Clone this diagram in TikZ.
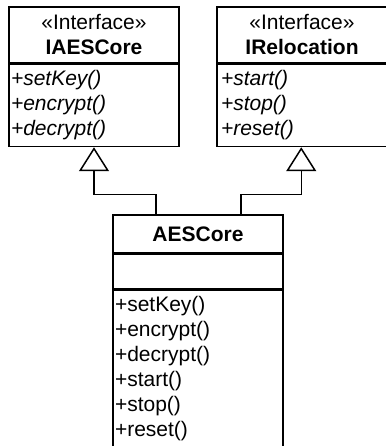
\documentclass[tikz,border=0pt]{standalone}
\usepackage{fontspec}
\setmainfont{Liberation Sans}
\usetikzlibrary{positioning,arrows.meta}

\begin{document}
\begin{tikzpicture}[x=1pt, y=1pt, line width=1.5pt, node font=\fontsize{21}{25}\selectfont]
        \tikzset{head/.style={draw, minimum width=170pt, inner sep=0pt, align=center}}
        \tikzset{ops/.style={draw, minimum width=170pt, text width=166pt, inner xsep=2pt, inner ysep=0pt, align=left}}
        \tikzset{realize/.style={-{Triangle[open, length=24pt, width=30pt]}}}
        \useasboundingbox (0,0) rectangle (385,-446);
        % interfaces
        \node[head, minimum height=56pt] (iaes) at (94,-35) {«Interface»\\\textbf{IAESCore}};
        \node[ops, font=\itshape, minimum height=82pt, below=0pt of iaes] (iaesops) {+setKey()\\+encrypt()\\+decrypt()};
        \node[head, minimum height=56pt, minimum width=174pt] (ireloc) at (304,-35) {\hspace*{-4pt}«Interface»\\\hspace*{-4pt}\textbf{IRelocation}};
        \node[ops, font=\itshape, minimum height=82pt, minimum width=174pt, below=0pt of ireloc] (irelocops) {+start()\\+stop()\\+reset()};
        % implementing class
        \node[head, minimum height=38pt] (aes) at (198,-234) {\textbf{AESCore}};
        \node[ops, minimum height=34pt, below=0pt of aes] (aesattr) {};
        \node[ops, minimum height=158pt, below=0pt of aesattr] (aesops) {+setKey()\\+encrypt()\\+decrypt()\\+start()\\+stop()\\+reset()};
        \draw[realize] ([xshift=-42pt]aes.north) -- ++(0,20) -| (iaesops.south);
        \draw[realize] ([xshift=43pt]aes.north) -- ++(0,20) -| ([xshift=85pt]irelocops.south west);
    \end{tikzpicture}
\end{document}
